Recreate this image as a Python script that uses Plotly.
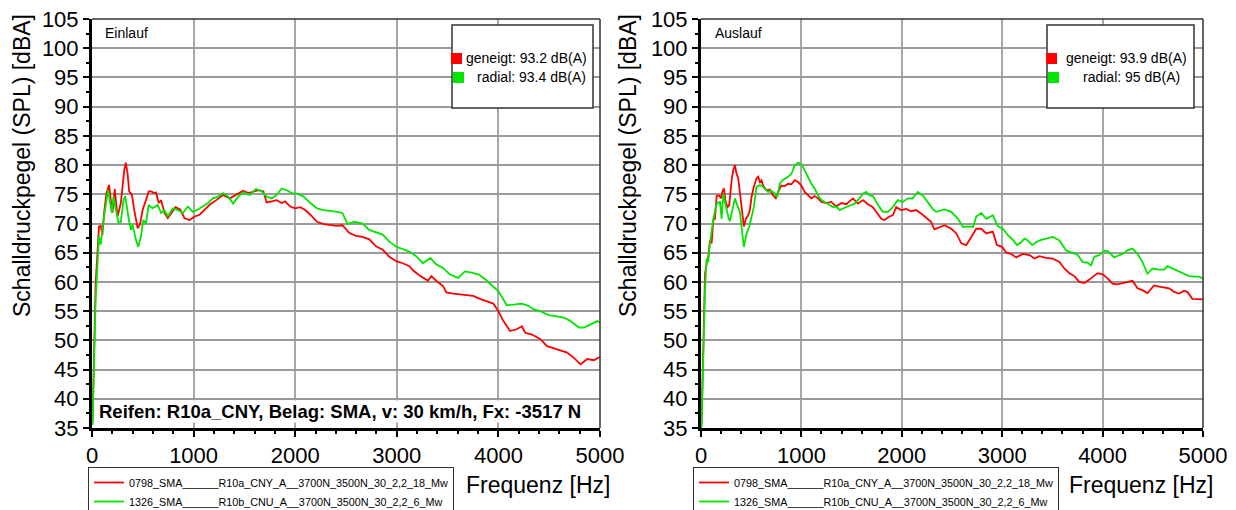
import plotly.graph_objects as go

# ---------------- data ----------------
ein_red_f = [5, 36, 69, 86, 102, 119, 142, 168, 185, 201, 224, 251, 284, 317, 333, 350, 366, 393, 416, 449, 472, 498,
             531, 558, 581, 614, 630, 657, 680, 713, 746, 779, 822, 868, 911, 960, 1010, 1059, 1109, 1158, 1224, 1290,
             1356, 1422, 1488, 1538, 1587, 1637, 1686, 1719, 1769, 1818, 1868, 1901, 1950, 2000, 2050, 2099, 2149,
             2215, 2281, 2347, 2413, 2465, 2531, 2597, 2663, 2729, 2795, 2861, 2927, 3000, 3059, 3125, 3158, 3224,
             3307, 3340, 3389, 3455, 3488, 3554, 3620, 3686, 3752, 3818, 3884, 3950, 4000, 4049, 4115, 4181, 4231,
             4264, 4330, 4413, 4479, 4545, 4611, 4677, 4743, 4809, 4875, 4941, 5000]
ein_red_v = [36, 59.8, 69.5, 69.6, 68, 71.8, 75.2, 76.6, 74, 71.8, 75.9, 71.2, 73.5, 79.1, 80.4, 78.6, 75.5, 74.9, 72.3,
             69.2, 69.8, 72.3, 74, 75.5, 75.5, 75.2, 75.3, 73.5, 74, 71.8, 70.9, 71.8, 72.8, 72.4, 70.9, 70.6, 71.2, 71.5,
             72.4, 73.2, 74, 74.9, 74.3, 74.9, 75.6, 75.2, 75.5, 75.7, 75.5, 73.6, 73.8, 74, 73.5, 73.8, 72.9, 72.6, 72.8,
             72.3, 71.5, 70.3, 69.9, 69.8, 69.6, 69.7, 68.4, 67.9, 67.7, 67.3, 66.1, 65.5, 64.3, 63.5, 63.2, 62.7, 62.0,
             61.1, 60.2, 61.0, 60.2, 59.3, 58.2, 58.0, 57.9, 57.7, 57.6, 57.1, 56.7, 56.3, 55.0, 53.3, 51.6, 51.9, 52.4,
             51.3, 51.0, 50.2, 49.0, 48.6, 48.2, 47.9, 47.0, 45.9, 46.8, 46.6, 47.2]

ein_green_f = [5, 36, 69, 86, 109, 135, 158, 175, 195, 211, 234, 261, 284, 310, 327, 350, 366, 383, 399, 432, 455, 482,
               505, 531, 558, 597, 647, 680, 713, 746, 795, 845, 894, 944, 993, 1043, 1092, 1142, 1191, 1241, 1290, 1340,
               1389, 1439, 1488, 1554, 1614, 1670, 1719, 1769, 1818, 1868, 1917, 1967, 2017, 2083, 2149, 2215, 2281,
               2347, 2413, 2465, 2515, 2581, 2663, 2729, 2795, 2861, 2927, 3000, 3059, 3125, 3191, 3257, 3330, 3389,
               3455, 3521, 3604, 3670, 3736, 3802, 3868, 3934, 4000, 4049, 4082, 4148, 4231, 4297, 4347, 4413, 4495,
               4578, 4644, 4710, 4792, 4842, 4908, 4974, 5000]
ein_green_v = [35.5, 57, 67.8, 66.4, 70, 73.5, 75.7, 74, 71.8, 74.6, 72.3, 70, 70.3, 74, 74.7, 71.8, 70.3, 68.9, 69.8,
               67.2, 66, 67.8, 70.6, 70, 73.2, 72.6, 73.2, 71.8, 72.3, 71.2, 72.6, 72.3, 71.8, 72.9, 72, 72.4, 72.9, 73.5,
               74.3, 74.6, 75.2, 74.6, 73.4, 74.6, 75.3, 74.9, 75.9, 75.5, 74.6, 74.3, 74.9, 76, 75.7, 75.2, 75.1, 74.6,
               73.5, 72.6, 72.3, 72.2, 72, 71.8, 69.9, 70.3, 70, 68.9, 68.5, 68.1, 66.9, 66, 65.6, 65.2, 64.4, 63.2, 64.1,
               63, 62.4, 61.3, 60.7, 61.8, 61.6, 61.3, 60.5, 59.5, 58.4, 57, 56, 56.1, 56.3, 55.9, 55.3, 55, 54.3, 54.1,
               53.9, 53.3, 52.2, 52.2, 52.7, 53.3, 53]

aus_red_f = [5, 23, 40, 56, 73, 89, 106, 123, 139, 156, 182, 199, 212, 228, 245, 265, 281, 305, 321, 338, 354, 371, 387,
             404, 427, 447, 470, 487, 503, 526, 553, 570, 586, 603, 619, 652, 685, 719, 745, 768, 801, 834, 868, 901,
             934, 967, 1000, 1033, 1066, 1099, 1132, 1166, 1199, 1248, 1298, 1348, 1397, 1447, 1513, 1563, 1613, 1662,
             1712, 1762, 1795, 1828, 1877, 1911, 1944, 1993, 2043, 2093, 2142, 2192, 2242, 2291, 2325, 2374, 2427,
             2493, 2543, 2593, 2642, 2692, 2742, 2791, 2841, 2907, 2947, 3000, 3040, 3089, 3139, 3205, 3272, 3321,
             3371, 3437, 3503, 3570, 3619, 3669, 3719, 3768, 3818, 3868, 3917, 3950, 4000, 4050, 4099, 4149, 4199,
             4248, 4298, 4348, 4397, 4447, 4513, 4563, 4613, 4662, 4712, 4762, 4811, 4844, 4894, 4944, 5000]
aus_red_v = [35.5, 51.7, 61.4, 63.1, 64.3, 67.1, 66.6, 70.6, 70.8, 74.7, 74.8, 74.3, 75.4, 76, 73.7, 72.8, 73.1, 77.4,
             79.1, 80, 78.5, 77.7, 75.1, 72.3, 69.5, 70.8, 71.4, 72.3, 74.5, 76.3, 77.7, 78, 77.1, 77.4, 76.5, 75.7, 75.8,
             74.8, 74.3, 75.4, 76.5, 76.4, 76.8, 76.7, 77.4, 77.1, 76.5, 75.4, 74.8, 74.3, 74.7, 74.3, 73.7, 73.5, 73.7,
             72.9, 73.5, 73.3, 74.3, 73.4, 74, 73.3, 72.8, 71.7, 70.8, 70.6, 71.2, 71.4, 72.8, 72.3, 72.5, 72.1, 72.3,
             71.7, 71, 70.3, 69, 69.4, 69.7, 69.1, 68.3, 66.6, 66.3, 67.7, 69.1, 69.1, 68.3, 68.6, 66.3, 66, 65, 64.8,
             64.2, 64.8, 64.6, 64, 64.4, 64.1, 64, 63.4, 62.3, 61.5, 61, 60, 59.8, 60.4, 61, 61.5, 61.3, 60.6, 59.7, 59.6,
             59.8, 60, 60.2, 58.9, 58.6, 58.1, 59.4, 59.2, 59, 58.9, 58.3, 58, 58.5, 58.3, 57.1, 57.1, 57]

aus_green_f = [5, 23, 40, 56, 73, 89, 123, 156, 189, 205, 222, 238, 255, 272, 288, 315, 338, 361, 387, 404, 427, 454,
               480, 503, 526, 553, 579, 603, 636, 669, 702, 735, 758, 785, 818, 868, 901, 934, 967, 1000, 1033, 1066,
               1099, 1132, 1166, 1199, 1248, 1281, 1315, 1348, 1381, 1430, 1480, 1530, 1579, 1613, 1646, 1679, 1712,
               1745, 1778, 1811, 1861, 1911, 1960, 2010, 2060, 2109, 2159, 2209, 2258, 2308, 2341, 2391, 2427, 2493,
               2560, 2609, 2659, 2709, 2742, 2791, 2841, 2907, 2957, 3007, 3056, 3106, 3146, 3189, 3222, 3255, 3298,
               3338, 3387, 3437, 3503, 3570, 3636, 3702, 3752, 3801, 3851, 3884, 3917, 3967, 4017, 4050, 4083, 4116,
               4166, 4199, 4248, 4298, 4348, 4397, 4447, 4497, 4563, 4613, 4646, 4695, 4762, 4811, 4861, 4911, 4960,
               5000]
aus_green_v = [35, 48.9, 58.6, 64, 63.4, 66.6, 70.8, 73.4, 73.7, 70.8, 75.1, 73.7, 72.3, 71.1, 70.4, 72.3, 74.3, 73.1,
               72, 69.4, 66, 68.3, 69.4, 71.1, 72.8, 76.3, 76.5, 76.5, 76, 75.4, 75.6, 75.1, 74.5, 76.8, 77.5, 78, 78.5,
               80, 80.4, 80.2, 79.1, 78, 76.8, 76, 74.8, 74, 73.5, 73.1, 72.8, 72.9, 72.3, 72.7, 73.1, 73.4, 74.3, 75.1,
               75.4, 74.8, 74.7, 73.7, 72.8, 72, 72, 72.8, 74, 73.7, 74.3, 74.3, 75.4, 74.8, 73.7, 72.5, 72, 72.3, 72.4,
               72, 70.8, 69.4, 69.5, 69.4, 71.2, 71.8, 70.8, 71.4, 69.5, 69.1, 68, 67.2, 66.3, 66.8, 67.4, 67.1, 66.3,
               66.8, 67.2, 67.4, 67.7, 67.1, 65.4, 65, 64.6, 63.4, 63.3, 62.8, 64.3, 64.6, 65.3, 65.3, 64.7, 64.2, 64.6,
               64.8, 65.4, 65.7, 64.8, 63.4, 61.4, 62.3, 62.1, 62.1, 62.7, 62.3, 61.7, 61.4, 61, 60.9, 60.9, 60.6]

name_red = "0798_SMA______R10a_CNY_A__3700N_3500N_30_2,2_18_Mw"
name_green = "1326_SMA______R10b_CNU_A__3700N_3500N_30_2,2_6_Mw"
panel_titles = ["Einlauf", "Auslauf"]
level_red = ["geneigt: 93.2 dB(A)", "geneigt: 93.9 dB(A)"]
level_green = ["radial: 93.4 dB(A)", "radial: 95 dB(A)"]
info_text = "Reifen: R10a_CNY, Belag: SMA, v: 30 km/h, Fx: -3517 N"
x_ticks = [0, 1000, 2000, 3000, 4000, 5000]
y_ticks = list(range(35, 106, 5))

RED = "#ff0000"
GREEN = "#00e600"
FONT = "Arial, Liberation Sans, sans-serif"
W, H = 1236, 510

fig = go.Figure()
fig.add_trace(go.Scatter(x=ein_red_f, y=ein_red_v, mode="lines", line=dict(color=RED, width=1.8),
                         name=name_red, xaxis="x", yaxis="y", legend="legend"))
fig.add_trace(go.Scatter(x=ein_green_f, y=ein_green_v, mode="lines", line=dict(color=GREEN, width=1.8),
                         name=name_green, xaxis="x", yaxis="y", legend="legend"))
fig.add_trace(go.Scatter(x=aus_red_f, y=aus_red_v, mode="lines", line=dict(color=RED, width=1.8),
                         name=name_red, xaxis="x2", yaxis="y2", legend="legend2"))
fig.add_trace(go.Scatter(x=aus_green_f, y=aus_green_v, mode="lines", line=dict(color=GREEN, width=1.8),
                         name=name_green, xaxis="x2", yaxis="y2", legend="legend2"))

ydom = [1 - 428 / H, 1 - 19 / H]
xdoms = [[92 / W, 600 / W], [701 / W, 1203 / W]]

def xaxis_main(dom, anchor):
    return dict(domain=dom, anchor=anchor, range=[0, 5000], tickvals=x_ticks, ticks="outside", ticklen=6,
                tickwidth=2, tickcolor="black", showline=True, linecolor="black", linewidth=3,
                showgrid=True, gridcolor="#a8a8a8", gridwidth=1.5, zeroline=False,
                tickfont=dict(family=FONT, size=22, color="black"),
                minor=dict(dtick=200, tick0=0, ticks="outside", ticklen=3, tickwidth=1.5, tickcolor="black",
                           showgrid=False))

def yaxis_main(anchor):
    return dict(domain=ydom, anchor=anchor, range=[35, 105], tickvals=y_ticks, ticks="outside", ticklen=6,
                tickwidth=2, tickcolor="black", showline=True, linecolor="black", linewidth=3,
                showgrid=True, gridcolor="#9a9a9a", gridwidth=1.5, zeroline=False,
                tickfont=dict(family=FONT, size=22, color="black"),
                minor=dict(dtick=2.5, tick0=35, ticks="outside", ticklen=3, tickwidth=1.5, tickcolor="black",
                           showgrid=False))

def xaxis_over(over, anchor):
    return dict(overlaying=over, anchor=anchor, range=[0, 5000], tickvals=x_ticks, ticks="inside", ticklen=5,
                tickwidth=2, tickcolor="black", showticklabels=False, showgrid=False, showline=False,
                zeroline=False,
                minor=dict(dtick=200, tick0=0, ticks="inside", ticklen=3, tickwidth=1.5, tickcolor="black",
                           showgrid=False))

def yaxis_over(over, anchor):
    return dict(overlaying=over, anchor=anchor, side="left", range=[35, 105], tickvals=y_ticks, ticks="inside",
                ticklen=5, tickwidth=2, tickcolor="black", showticklabels=False, showgrid=False, showline=False,
                zeroline=False,
                minor=dict(dtick=2.5, tick0=35, ticks="inside", ticklen=3, tickwidth=1.5, tickcolor="black",
                           showgrid=False))

legend_common = dict(bgcolor="white", bordercolor="#333333", borderwidth=1,
                     font=dict(family=FONT, size=10.8, color="black"), itemwidth=30, tracegroupgap=0,
                     xanchor="left", yanchor="top", y=1 - 467 / H, orientation="v")

fig.update_layout(
    width=W, height=H, margin=dict(l=0, r=0, t=0, b=0, autoexpand=False),
    paper_bgcolor="white", plot_bgcolor="white",
    xaxis=xaxis_main(xdoms[0], "y"), yaxis=yaxis_main("x"),
    xaxis2=xaxis_main(xdoms[1], "y2"), yaxis2=yaxis_main("x2"),
    xaxis3=xaxis_over("x", "y"), yaxis3=yaxis_over("y", "x"),
    xaxis4=xaxis_over("x2", "y2"), yaxis4=yaxis_over("y2", "x2"),
    legend=dict(legend_common, x=88 / W),
    legend2=dict(legend_common, x=693 / W),
    showlegend=True,
)

shapes = []
annotations = []
for i, (xr, yr, xd) in enumerate([("x", "y", "x domain"), ("x2", "y2", "x2 domain")]):
    yd = "y domain" if i == 0 else "y2 domain"
    # top/right thin frame
    shapes.append(dict(type="line", xref=xd, yref=yd, x0=0, x1=1, y0=1, y1=1,
                       line=dict(color="#333333", width=1.5)))
    shapes.append(dict(type="line", xref=xd, yref=yd, x0=1, x1=1, y0=0, y1=1,
                       line=dict(color="#333333", width=1.5)))
    # level box
    bx0, bx1 = ([452, 593], [1047, 1194])[i]
    shapes.append(dict(type="rect", xref="paper", yref="paper", x0=bx0 / W, x1=bx1 / W,
                       y0=1 - 108 / H, y1=1 - 25 / H, fillcolor="white", line=dict(color="#333333", width=1.5),
                       layer="above"))
    sx = bx0 - 1
    shapes.append(dict(type="rect", xref="paper", yref="paper", x0=(sx) / W, x1=(sx + 11) / W,
                       y0=1 - 64 / H, y1=1 - 53 / H, fillcolor=RED, line=dict(width=0), layer="above"))
    shapes.append(dict(type="rect", xref="paper", yref="paper", x0=(sx + 2) / W, x1=(sx + 13) / W,
                       y0=1 - 83 / H, y1=1 - 72 / H, fillcolor=GREEN, line=dict(width=0), layer="above"))
    cx = ([526, 1126])[i]
    annotations.append(dict(text=level_red[i], xref="paper", yref="paper", x=cx / W, y=1 - 58 / H,
                            xanchor="center", yanchor="middle", showarrow=False,
                            font=dict(family=FONT, size=14, color="black")))
    annotations.append(dict(text=level_green[i], xref="paper", yref="paper", x=(cx + 5) / W, y=1 - 77 / H,
                            xanchor="center", yanchor="middle", showarrow=False,
                            font=dict(family=FONT, size=14, color="black")))
    # panel title
    tx = ([103, 713])[i]
    annotations.append(dict(text=panel_titles[i], xref="paper", yref="paper", x=tx / W, y=1 - 33 / H,
                            xanchor="left", yanchor="middle", showarrow=False,
                            font=dict(family=FONT, size=14, color="black")))
    # axis titles
    annotations.append(dict(text="Schalldruckpegel (SPL) [dBA]", xref="paper", yref="paper",
                            x=([22, 628])[i] / W, y=1 - 166 / H, textangle=-90, xanchor="center",
                            yanchor="middle", showarrow=False, font=dict(family=FONT, size=23, color="black")))
    annotations.append(dict(text="Frequenz [Hz]", xref="paper", yref="paper",
                            x=([538, 1141])[i] / W, y=1 - 485 / H, xanchor="center", yanchor="middle",
                            showarrow=False, font=dict(family=FONT, size=23, color="black")))

annotations.append(dict(text="<b>" + info_text + "</b>", xref="paper", yref="paper", x=98 / W, y=1 - 411 / H,
                        xanchor="left", yanchor="middle", showarrow=False, bgcolor="white", borderpad=0,
                        font=dict(family=FONT, size=18.5, color="black")))

fig.update_layout(shapes=shapes, annotations=annotations)
fig.write_html("out.html")
